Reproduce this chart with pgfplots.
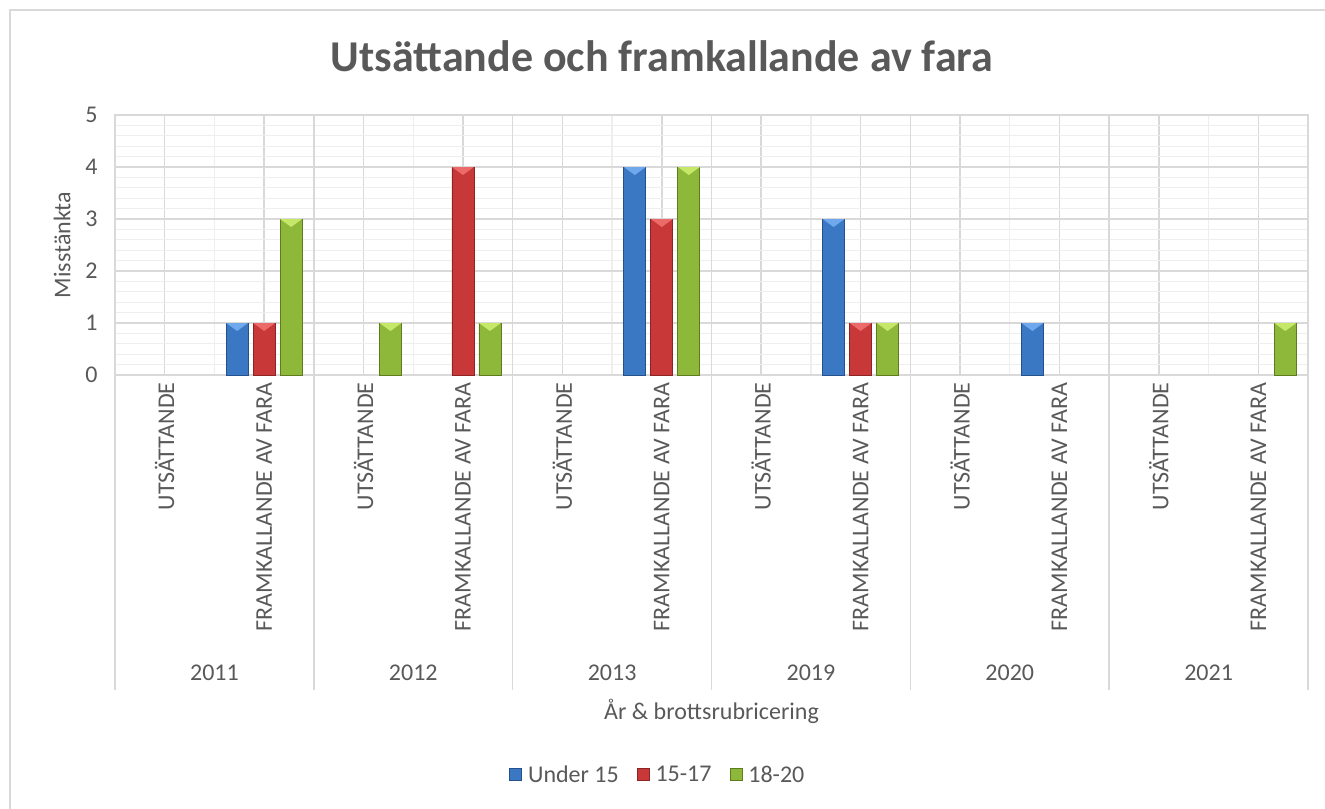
\documentclass[border=0pt]{standalone}
\usepackage{fontspec}
\setmainfont{Carlito}
\usepackage{pgfplots}
\pgfplotsset{compat=1.18}
\usetikzlibrary{shapes.geometric}
\definecolor{txt}{HTML}{595959}
\definecolor{gridc}{HTML}{D9D9D9}
\definecolor{mgridc}{HTML}{EEEEEE}
\definecolor{bdark}{HTML}{24508C}
\definecolor{bmid}{HTML}{3B78C4}
\definecolor{btri}{HTML}{6FA8EC}
\definecolor{rdark}{HTML}{8C2424}
\definecolor{rmid}{HTML}{C83838}
\definecolor{rtri}{HTML}{EC6A6A}
\definecolor{gdark}{HTML}{5E7C1E}
\definecolor{gmid}{HTML}{8DB83A}
\definecolor{gtri}{HTML}{C6E868}
\newcommand{\lf}{\fontsize{24bp}{28bp}\selectfont}
\begin{document}
\begin{tikzpicture}
\useasboundingbox (0,0) rectangle (1325bp,-809bp);
\draw[gridc, line width=1.5bp] (10bp,-809bp) -- (10bp,-10bp) -- (1325bp,-10bp);
\begin{axis}[
  at={(115bp,-375bp)}, anchor=south west,
  scale only axis, width=1193bp, height=260bp,
  xmin=-0.5, xmax=11.5, ymin=0, ymax=5,
  ybar=5bp, bar width=22bp,
  axis line style={draw=gridc, line width=1.2bp},
  xtick={0,...,11},
  xticklabels={\rotatebox{90}{UTSÄTTANDE},\rotatebox{90}{FRAMKALLANDE AV FARA},
    \rotatebox{90}{UTSÄTTANDE},\rotatebox{90}{FRAMKALLANDE AV FARA},
    \rotatebox{90}{UTSÄTTANDE},\rotatebox{90}{FRAMKALLANDE AV FARA},
    \rotatebox{90}{UTSÄTTANDE},\rotatebox{90}{FRAMKALLANDE AV FARA},
    \rotatebox{90}{UTSÄTTANDE},\rotatebox{90}{FRAMKALLANDE AV FARA},
    \rotatebox{90}{UTSÄTTANDE},\rotatebox{90}{FRAMKALLANDE AV FARA}},
  xticklabel style={anchor=north, yshift=-4bp},
  minor xtick={0.5,2.5,4.5,6.5,8.5,10.5},
  extra x ticks={-0.5,1.5,3.5,5.5,7.5,9.5,11.5},
  extra x tick labels={},
  extra x tick style={grid=major, major tick length=315bp, tick align=outside,
     tick style={draw=gridc, line width=1.5bp}},
  xtick pos=bottom,
  major tick length=0pt, minor tick length=0pt,
  xmajorgrids, xminorgrids, ymajorgrids, yminorgrids,
  ytick={0,...,5}, minor y tick num=4,
  major grid style={draw=gridc, line width=1.5bp},
  minor grid style={draw=mgridc, line width=1.2bp},
  ytick style={draw=none},
  yticklabel style={xshift=-14bp},
  tick label style={font=\lf, text=txt},
  /pgf/number format/assume math mode=true,
  ylabel={Misstänkta},
  every axis y label/.style={at={(axis description cs:-0.0444,0.5)}, rotate=90, anchor=center, font=\lf, text=txt},
  xlabel={År \& brottsrubricering},
  every axis x label/.style={at={(axis description cs:0.5,-1.292)}, anchor=center, font=\lf, text=txt},
  title={Utsättande och framkallande av fara},
  title style={at={(axis description cs:0.4585,1.204)}, anchor=center, font=\fontsize{44bp}{50bp}\selectfont\bfseries, text=txt},
  clip=false,
  legend style={at={(axis description cs:0.455,-1.538)}, anchor=center, draw=none, fill=none,
     legend columns=-1, font=\lf, text=txt,
     /tikz/every even column/.append style={column sep=16bp},
     /tikz/every odd column/.append style={column sep=4bp}},
  legend image code/.code={\path[#1] (-6bp,-6bp) rectangle (6bp,6bp);},
  every node near coord/.append style={shape=isosceles triangle, shape border rotate=-90,
     isosceles triangle stretches, minimum width=22bp, minimum height=8bp,
     inner sep=0pt, outer sep=0pt, anchor=north, draw=none},
  nodes near coords={},
]
\addplot[draw=bdark, line width=0.8bp, fill=bmid,
  every node near coord/.append style={fill=btri}]
  coordinates {(1,1) (5,4) (7,3) (9,1)};
\addplot[draw=rdark, line width=0.8bp, fill=rmid,
  every node near coord/.append style={fill=rtri}]
  coordinates {(1,1) (3,4) (5,3) (7,1)};
\addplot[draw=gdark, line width=0.8bp, fill=gmid,
  every node near coord/.append style={fill=gtri}]
  coordinates {(1,3) (2,1) (3,1) (5,4) (7,1) (11,1)};
\legend{Under 15,15-17,18-20}
\node[font=\lf, text=txt] at (axis cs:0.5,-5.73) {2011};
\node[font=\lf, text=txt] at (axis cs:2.5,-5.73) {2012};
\node[font=\lf, text=txt] at (axis cs:4.5,-5.73) {2013};
\node[font=\lf, text=txt] at (axis cs:6.5,-5.73) {2019};
\node[font=\lf, text=txt] at (axis cs:8.5,-5.73) {2020};
\node[font=\lf, text=txt] at (axis cs:10.5,-5.73) {2021};
\end{axis}
\end{tikzpicture}
\end{document}
